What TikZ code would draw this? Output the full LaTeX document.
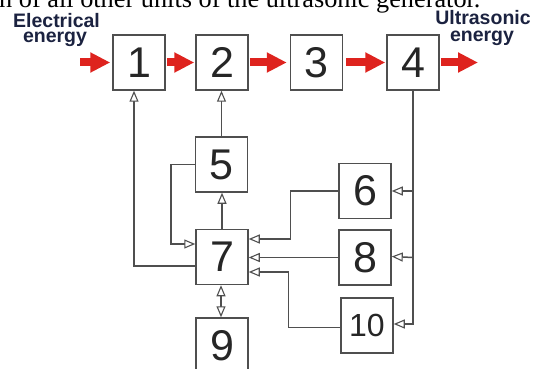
\documentclass[tikz,border=0pt]{standalone}
\usepackage{fontspec}
\setmainfont{Liberation Sans}
\newfontfamily\topserif{Liberation Serif}
\usetikzlibrary{arrows.meta}
\definecolor{linegray}{HTML}{4F4F4F}
\definecolor{flowred}{RGB}{222,35,30}
\definecolor{labelink}{HTML}{1B2240}
\tikzset{
  unit/.style={draw=linegray, line width=1.5pt, fill=white, minimum width=52pt,
    minimum height=55pt, inner sep=0pt, text=black!85,
    font=\fontsize{43}{43}\selectfont},
  smallunit/.style={unit, font=\fontsize{32}{32}\selectfont},
  opentip/.tip={Triangle[open, length=11pt, width=9pt, line width=1.1pt, fill=white]},
  conn/.style={draw=linegray, line width=1.5pt, -opentip},
  bothconn/.style={draw=linegray, line width=1.5pt, opentip-opentip},
  flow/.style={draw=flowred, line width=8pt,
    -{Triangle[length=20pt, width=19pt, fill=flowred]}},
  energylabel/.style={font=\fontsize{19.5}{19.5}\selectfont\bfseries, text=labelink, inner sep=0pt, anchor=base}
}
\begin{document}
\begin{tikzpicture}[x=1pt, y=-1pt]
\useasboundingbox (0,0) rectangle (536,369);
% cropped caption line at the top
\node[anchor=base west, inner sep=0pt, font=\topserif\fontsize{26.3}{26.3}\selectfont] (caption) at (-1,7.3) {n of all other units of the ultrasonic generator.};
% labels
\node[energylabel] (elecA) at (56.5,27.3) {Electrical};
\node[energylabel] (elecB) at (55,43) {energy};
\node[energylabel] (ultraA) at (483,25) {Ultrasonic};
\node[energylabel] (ultraB) at (482,41.7) {energy};
% units
\node[unit] (b1) at (139,62.5) {1};
\node[unit] (b2) at (222,62.5) {2};
\node[unit] (b3) at (316.5,62.5) {3};
\node[unit] (b4) at (413,62.5) {4};
\node[unit] (b5) at (221.5,164.5) {5};
\node[unit] (b7) at (222,257) {7};
\node[unit] (b9) at (222,345.5) {9};
\node[unit] (b6) at (365,191) {6};
\node[unit] (b8) at (365,257.5) {8};
\node[smallunit] (b10) at (367,325.5) {10};
% energy flow
\coordinate (inflow) at (80,62.5);
\coordinate (outflow) at (478,62.5);
\draw[flow, shorten >=2pt] (inflow) -- (b1.west);
\draw[flow, shorten <=1pt, shorten >=1pt] (b1.east) -- (b2.west);
\draw[flow, shorten <=1pt, shorten >=3pt] (b2.east) -- (b3.west);
\draw[flow, shorten <=3pt, shorten >=1pt] (b3.east) -- (b4.west);
\draw[flow, shorten <=1pt] (b4.east) -- (outflow);
% control connections
\draw[conn] ([yshift=-9pt]b7.west) -| ([xshift=-5pt]b1.south);
\draw[conn] (b5.north) -- (b5.north |- b2.south);
\draw[conn] (b7.north) -- (b7.north |- b5.south);
\draw[conn] (b5.west) -- ++(-24,0) |- ([yshift=13pt]b7.west);
\draw[conn] (b6.west) -- ++(-48,0) |- ([yshift=18pt]b7.east);
\draw[conn] (b8.west) -- (b8.west -| b7.east);
\draw[conn] ([yshift=-2pt]b10.west) -- ++(-52,0) |- ([yshift=-15pt]b7.east);
\draw[bothconn] ([xshift=-1pt]b7.south) -- ([xshift=-1pt]b9.north);
% bus from unit 4
\draw[conn] (b4.south) |- ([yshift=1.5pt]b10.east);
\draw[conn] (b4.south |- b6.east) -- (b6.east);
\draw[conn] (b4.south |- b8.east) -- ([yshift=1pt]b8.east);
\end{tikzpicture}
\end{document}
